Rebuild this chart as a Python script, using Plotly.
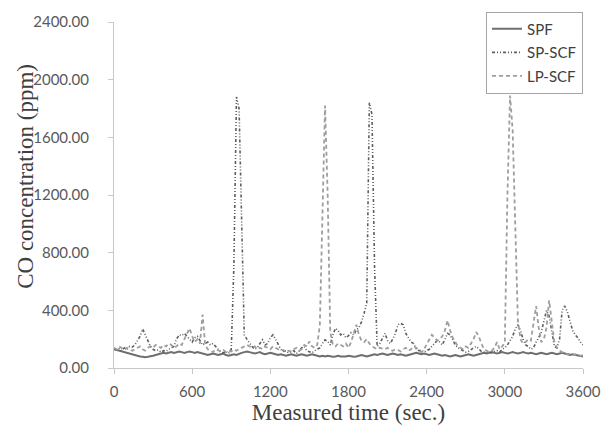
import plotly.graph_objects as go

# Sampling instants of the CO record (s), one reading every 20 s
time_s = list(range(0, 3601, 20))

# Single point fire (SPF)
co_spf = [
    130, 125, 115, 110, 105, 100, 95, 90, 85, 85,
    80, 78, 75, 78, 80, 85, 90, 95, 100, 105,
    100, 105, 110, 105, 110, 115, 110, 105, 110, 115,
    110, 105, 110, 105, 100, 95, 90, 95, 100, 95,
    90, 95, 100, 90, 85, 90, 95, 90, 100, 105,
    110, 115, 110, 105, 100, 105, 110, 100, 95, 100,
    105, 100, 95, 90, 95, 90, 85, 90, 95, 90,
    85, 90, 95, 90, 85, 90, 95, 90, 85, 80,
    85, 80, 85, 80, 78, 80, 85, 80, 78, 80,
    85, 80, 78, 80, 85, 90, 85, 80, 85, 90,
    95, 90, 95, 100, 95, 90, 95, 100, 95, 90,
    95, 90, 85, 90, 95, 100, 105, 100, 95, 100,
    95, 90, 95, 100, 95, 90, 85, 90, 85, 80,
    85, 90, 85, 80, 85, 90, 95, 90, 85, 90,
    95, 100, 105, 100, 105, 110, 105, 100, 105, 110,
    105, 100, 105, 110, 105, 100, 105, 110, 105, 100,
    105, 100, 95, 100, 105, 100, 95, 100, 105, 100,
    95, 100, 105, 100, 95, 90, 95, 90, 85, 80,
    80,
]

# Small pool, sequential corridor fire (SP-SCF)
co_sp_scf = [
    130, 125, 135, 120, 140, 130, 150, 145, 160, 190,
    220, 270, 230, 180, 150, 130, 120, 125, 110, 120,
    115, 130, 140, 150, 200, 230, 225, 240, 220, 200,
    180, 210, 220, 190, 160, 170, 180, 160, 170, 150,
    130, 110, 105, 115, 100, 130, 700, 1880, 1800, 1100,
    230, 200, 170, 150, 130, 140, 170, 195, 160, 170,
    210, 230, 200, 160, 130, 115, 120, 105, 110, 120,
    100, 115, 140, 150, 120, 110, 105, 120, 130, 140,
    170, 195, 185, 160, 230, 275, 260, 230, 240, 210,
    225, 245, 230, 265, 280, 320, 380, 450, 1840, 1760,
    700, 150, 170, 210, 240, 190, 170, 200, 240, 300,
    310, 300, 240, 210, 180, 170, 130, 120, 125, 110,
    120, 130, 150, 170, 190, 180, 160, 200, 240, 230,
    190, 160, 140, 130, 120, 110, 115, 130, 140, 150,
    130, 115, 110, 105, 110, 105, 115, 120, 110, 130,
    140, 160, 190, 220, 270, 300, 260, 200, 160, 150,
    130, 140, 180, 210, 250, 330, 400, 360, 250, 150,
    140, 200, 400, 430, 390, 330, 260, 230, 210, 180,
    160,
]

# Large pool, sequential corridor fire (LP-SCF)
co_lp_scf = [
    140, 130, 150, 135, 125, 140, 130, 120, 130, 140,
    150, 130, 120, 140, 150, 140, 160, 150, 140, 160,
    150, 170, 160, 140, 150, 170, 160, 200, 240, 275,
    220, 180, 200, 170, 370, 160, 130, 120, 110, 130,
    120, 115, 125, 110, 120, 115, 130, 120, 130, 140,
    150, 160, 150, 140, 150, 130, 140, 130, 150, 140,
    130, 150, 140, 130, 120, 125, 110, 120, 115, 130,
    140, 120, 130, 160, 150, 185, 150, 140, 160, 300,
    1100, 1820, 1200, 250, 160, 150, 170, 160, 150, 170,
    140, 180, 250, 300, 230, 190, 180, 200, 170, 150,
    140, 130, 140, 135, 130, 140, 125, 120, 130, 125,
    115, 130, 140, 120, 130, 150, 140, 120, 110, 130,
    160, 200, 230, 210, 190, 200, 220, 260, 330, 260,
    210, 180, 150, 140, 130, 150, 140, 170, 200, 250,
    220, 170, 130, 120, 110, 120, 140, 180, 130, 150,
    180, 1200, 1890, 1650, 980, 330, 200, 170, 180, 200,
    190, 300, 430, 280, 180, 200, 280, 470, 320, 180,
    140, 120, 110, 100, 95, 100, 90, 95, 90, 85,
    90,
]

y_ticks = [0, 400, 800, 1200, 1600, 2000, 2400]
y_tick_text = [f"{v:.2f}" for v in y_ticks]
x_ticks = [0, 600, 1200, 1800, 2400, 3000, 3600]

series = [
    ("SPF", co_spf, "#6e6e6e", "solid", 2),
    ("SP-SCF", co_sp_scf, "#5e5e5e", "3px,2px,1px,2px,1px,2px", 1.6),
    ("LP-SCF", co_lp_scf, "#9e9e9e", "4px,3px", 1.8),
]

fig = go.Figure()
for name, values, color, dash, width in series:
    fig.add_trace(go.Scatter(
        x=time_s, y=values, mode="lines", name=name, legendgroup=name,
        line=dict(color=color, width=width, dash=dash),
    ))

axis_color = "#c8c8c8"
tick_font = dict(family="Lato", size=15, color="#595959")
title_font = dict(family="Liberation Serif", size=23, color="#404040")

fig.update_layout(
    width=602, height=425,
    margin=dict(l=114, r=19, t=22, b=57, autoexpand=False),
    paper_bgcolor="white", plot_bgcolor="white",
    showlegend=True,
    legend=dict(
        x=1.0, xanchor="right", y=1.03, yanchor="top",
        bordercolor="#a6a6a6", borderwidth=1, bgcolor="white",
        font=dict(family="Lato", size=15, color="#404040"),
        itemwidth=30, tracegroupgap=1, entrywidth=68,
    ),
    xaxis=dict(
        range=[0, 3600], tickvals=x_ticks, showgrid=False, zeroline=False,
        automargin=False,
        showline=True, linecolor=axis_color, linewidth=1,
        ticks="outside", ticklen=5, tickcolor=axis_color,
        tickfont=tick_font, ticklabelstandoff=5,
        title=dict(text="Measured time (sec.)", font=title_font, standoff=2),
    ),
    yaxis=dict(
        range=[0, 2400], tickvals=y_ticks, ticktext=y_tick_text,
        showgrid=False, zeroline=False, automargin=False,
        showline=True, linecolor=axis_color, linewidth=1,
        ticks="outside", ticklen=5, tickcolor=axis_color,
        tickfont=tick_font, ticklabelstandoff=16,
    ),
    annotations=[dict(
        text="CO concentration (ppm)", textangle=-90,
        xref="paper", yref="paper", x=-0.188, y=0.555,
        xanchor="center", yanchor="middle", showarrow=False,
        font=title_font,
    )],
)

fig.write_html("out.html")
